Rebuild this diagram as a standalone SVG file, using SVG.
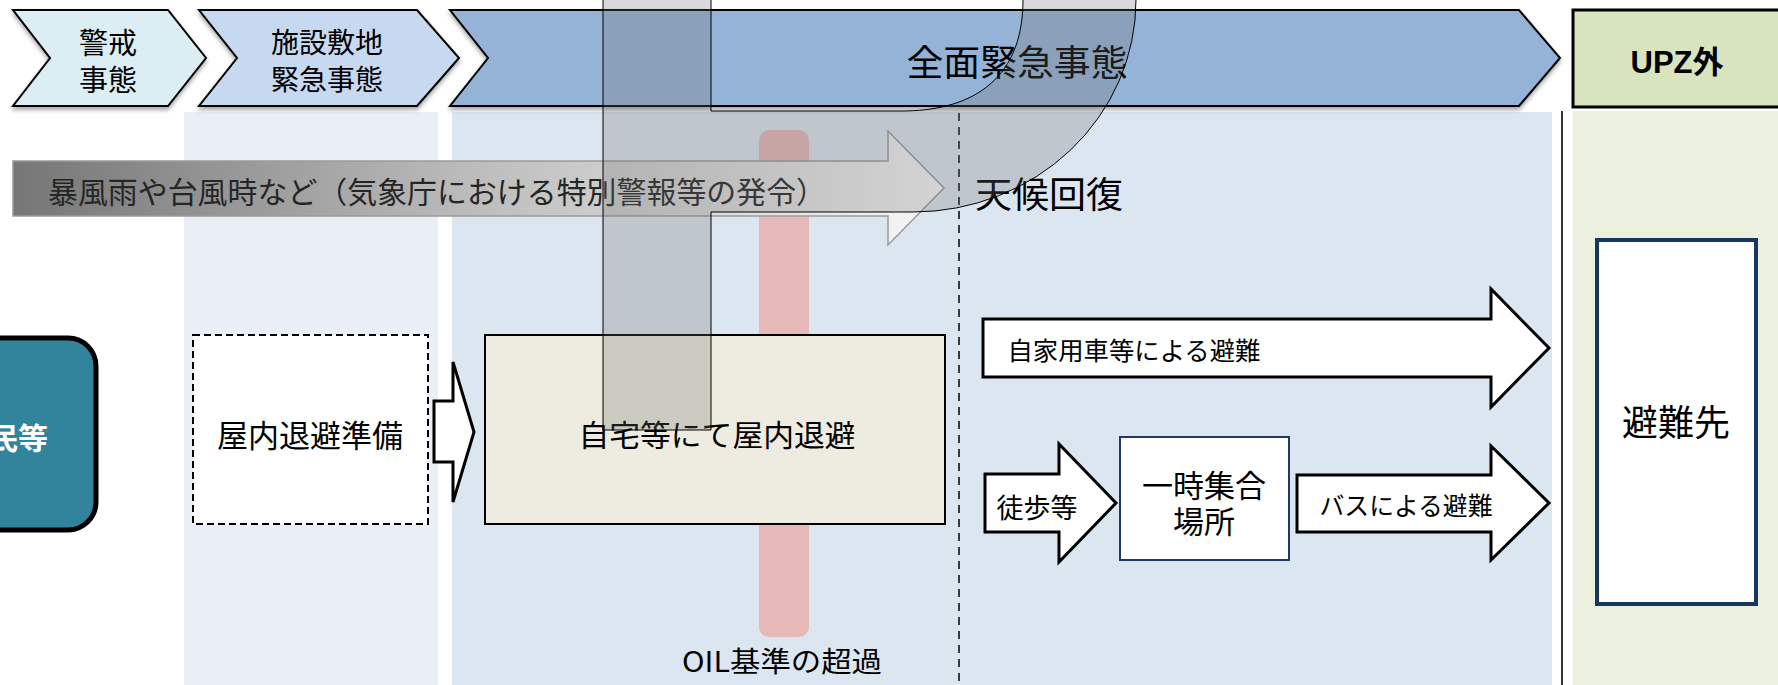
<svg xmlns="http://www.w3.org/2000/svg" width="1778" height="685" viewBox="0 0 1778 685">
<defs>
<style>
.t{font-family:"Noto Sans CJK JP","Liberation Sans",sans-serif;fill:#000;dominant-baseline:central;text-anchor:middle}
.chev{stroke:#000;stroke-width:2;stroke-linejoin:miter}
.blk{fill:#fff;stroke:#000;stroke-width:3;stroke-linejoin:miter}
</style>
<linearGradient id="grayGrad" x1="13" y1="0" x2="944" y2="0" gradientUnits="userSpaceOnUse">
<stop offset="0" stop-color="#767676"/>
<stop offset="0.5" stop-color="#BDBDBD"/>
<stop offset="1" stop-color="#F8F8F8"/>
</linearGradient>
<filter id="sh" x="-5%" y="-10%" width="110%" height="130%">
<feDropShadow dx="0" dy="3" stdDeviation="2" flood-color="#000" flood-opacity="0.35"/>
</filter>
</defs>
<rect width="1778" height="685" fill="#fff"/>
<g id="columns">
<rect x="184" y="112" width="254" height="573" fill="#EAEFF7"/>
<rect x="452" y="112" width="1100" height="573" fill="#DCE6F1"/>
<rect x="1573" y="111" width="205" height="574" fill="#EBF1DE"/>
<line x1="959" y1="113" x2="959" y2="685" stroke="#000" stroke-width="1.5" stroke-dasharray="8,6"/>
<line x1="1562" y1="111" x2="1562" y2="685" stroke="#333" stroke-width="2"/>
</g>
<g id="phase-warning">
<path class="chev" filter="url(#sh)" d="M13,10 L168,10 L206,58 L168,106 L13,106 L50,58 Z" fill="#DAEEF3"/>
<text class="t" x="108" y="41" font-size="29">警戒</text>
<text class="t" x="108" y="78" font-size="29">事態</text>
</g>
<g id="phase-site">
<path class="chev" filter="url(#sh)" d="M199,10 L417,10 L459,58 L417,106 L199,106 L237,58 Z" fill="#C6D9F1"/>
<text class="t" x="327" y="41" font-size="28">施設敷地</text>
<text class="t" x="327" y="78" font-size="28">緊急事態</text>
</g>
<g id="phase-general">
<path class="chev" filter="url(#sh)" d="M450,10 L1519,10 L1560,58 L1519,106 L450,106 L488,58 Z" fill="#95B3D7"/>
<text class="t" x="1017" y="60" font-size="36" textLength="221" lengthAdjust="spacingAndGlyphs">全面緊急事態</text>
</g>
<g id="phase-upz">
<rect x="1573" y="10" width="212" height="97" fill="#D7E4BD" stroke="#000" stroke-width="3"/>
<text class="t" x="1677" y="62" font-size="31" font-weight="bold" style="font-family:'Liberation Sans','Noto Sans CJK JP',sans-serif">UPZ外</text>
</g>
<g id="oil-bar">
<rect x="759" y="130" width="50" height="507" rx="10" fill="#E6B9B8"/>
</g>
<g id="weather-arrow">
<path d="M13,161 L888,161 L888,131 L944,188 L888,245 L888,216 L13,216 Z" fill="url(#grayGrad)" stroke="#9A9A9A" stroke-width="1.5"/>
<text class="t" x="437" y="190" font-size="30" fill="#262626" textLength="778" lengthAdjust="spacingAndGlyphs" style="fill:#262626">暴風雨や台風時など（気象庁における特別警報等の発令）</text>
</g>
<g id="weather-recovery">
<text class="t" x="1049" y="192" font-size="36" textLength="148" lengthAdjust="spacingAndGlyphs">天候回復</text>
</g>
<g id="residents">
<rect x="-90" y="338" width="186" height="192" rx="28" fill="#31849B" stroke="#000" stroke-width="5"/>
<text class="t" x="48" y="436" font-size="30" font-weight="bold" style="fill:#fff;text-anchor:end">住民等</text>
</g>
<g id="prep">
<rect x="193" y="335" width="235" height="189" fill="#fff" stroke="#000" stroke-width="2" stroke-dasharray="7,4"/>
<text class="t" x="310" y="433" font-size="31">屋内退避準備</text>
</g>
<g id="shelter">
<rect x="485" y="335" width="460" height="189" fill="#EEECE1" stroke="#000" stroke-width="2"/>
<text class="t" x="717" y="433" font-size="30" textLength="277" lengthAdjust="spacingAndGlyphs">自宅等にて屋内退避</text>
</g>
<g id="assembly">
<rect x="1120" y="437" width="169" height="123" fill="#fff" stroke="#1F3864" stroke-width="2"/>
<text class="t" x="1204" y="483" font-size="31">一時集合</text>
<text class="t" x="1204" y="519" font-size="31">場所</text>
</g>
<g id="destination">
<rect x="1597" y="240" width="159" height="364" fill="#fff" stroke="#17375E" stroke-width="4"/>
<text class="t" x="1676" y="420" font-size="36">避難先</text>
</g>
<g id="connectors">
<path class="blk" d="M434,401 L453,401 L453,362 L474,432 L453,502 L453,462 L434,462 Z"/>
<path class="blk" d="M983,319 L1491,319 L1491,289 L1549,348 L1491,407 L1491,377 L983,377 Z"/>
<text class="t" x="1134" y="349" font-size="25" textLength="253" lengthAdjust="spacingAndGlyphs">自家用車等による避難</text>
<path class="blk" d="M985,474 L1059,474 L1059,444 L1116,503 L1059,562 L1059,532 L985,532 Z"/>
<text class="t" x="1037" y="506" font-size="27">徒歩等</text>
<path class="blk" d="M1297,475 L1491,475 L1491,446 L1549,503 L1491,560 L1491,532 L1297,532 Z"/>
<text class="t" x="1406" y="504" font-size="25" textLength="173" lengthAdjust="spacingAndGlyphs">バスによる避難</text>
</g>
<g id="oil-label">
<text class="t" x="782" y="660" font-size="28" textLength="200" lengthAdjust="spacingAndGlyphs">OIL基準の超過</text>
</g>
<g id="overlay-shape">
<path d="M603,-5 L603,430 L711,430 L711,212 L913,212 A223 212 0 0 0 1136,0 L1136,-5 L1023,-5 L1023,0 C1023,85 965,111 902,111 L711,111 L711,-5 Z" fill="#6B6B6B" fill-opacity="0.26" stroke="#000" stroke-width="1"/>
</g>
</svg>
